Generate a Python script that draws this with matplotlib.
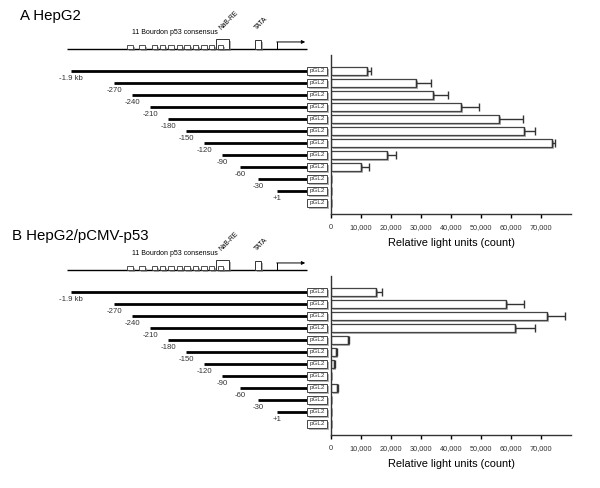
import numpy as np
import matplotlib
matplotlib.use("Agg")
import matplotlib.pyplot as plt
import matplotlib.patches as mpatches
import matplotlib.patheffects as pe

plt.rcParams['font.family'] = ['Liberation Sans', 'DejaVu Sans']

# constructs (5' end, bp relative to TSS); -1.9 kb is drawn on a broken scale
construct_labels = ['-1.9 kb', '-270', '-240', '-210', '-180', '-150', '-120', '-90', '-60', '-30', '+1']
construct_starts = [-343, -270, -240, -210, -180, -150, -120, -90, -60, -30, 1]
construct_end = 51

# promoter elements (bp)
bourdon_sites = [-244, -224, -203, -190, -176, -162, -149, -135, -121, -108, -93]
nabre_site = (-101, -79)
tata_site = (-36, -26)

# luciferase activity (RLU), 12 rows: 11 constructs + empty pGL2
hepg2_mean = [11900, 28200, 34100, 43400, 55900, 64300, 73800, 18800, 9900, 0, 0, 0]
hepg2_err = [1300, 5100, 4800, 5900, 8000, 3800, 1000, 2900, 2800, 0, 0, 0]
p53_mean = [15000, 58200, 72100, 61200, 5600, 1700, 1100, 0, 1900, 0, 0, 0]
p53_err = [1900, 6200, 5900, 6800, 400, 300, 200, 0, 300, 0, 0, 0]

ticks = [0, 10000, 20000, 30000, 40000, 50000, 60000, 70000]
tick_labels = ['0', '10,000', '20,000', '30,000', '40,000', '50,000', '60,000', '70,000']

shadow = [pe.SimplePatchShadow(offset=(1.4, -1.4), shadow_rgbFace='#777777', alpha=0.55), pe.Normal()]

W, H = 600, 488
fig = plt.figure(figsize=(6, 4.88), dpi=100)


def panel(y0, title, mean, err):
    # y0 = pixel row of first construct
    rows = np.arange(12)
    # left diagram axes
    axd = fig.add_axes([0, (H - (y0 + 143)) / H, 331 / W, 209 / H])
    axd.set_xlim(-460.67, 91)
    axd.set_ylim(11.92, -5.5)
    axd.axis('off')

    base = -1.8
    axd.plot([-349, construct_end], [base, base], color='k', lw=1.0, solid_capstyle='butt')
    for s in bourdon_sites:
        axd.add_patch(mpatches.Rectangle((s - 4.5, base), 9, -0.36, facecolor='white',
                                         edgecolor='#333333', lw=0.6, path_effects=shadow, zorder=3))
    axd.add_patch(mpatches.Rectangle((nabre_site[0], base), nabre_site[1] - nabre_site[0], -0.87,
                                     facecolor='white', edgecolor='#333333', lw=0.7,
                                     path_effects=shadow, zorder=2))
    axd.add_patch(mpatches.Rectangle((tata_site[0], base), tata_site[1] - tata_site[0], -0.8,
                                     facecolor='white', edgecolor='#333333', lw=0.7,
                                     path_effects=shadow, zorder=3))
    axd.plot([1, 1], [base, base - 0.62], color='k', lw=0.7)
    axd.annotate('', xy=(48, base - 0.62), xytext=(0.6, base - 0.62),
                 arrowprops=dict(arrowstyle='-|>', lw=0.7, color='k', mutation_scale=5,
                                 shrinkA=0, shrinkB=0))
    axd.text(-169, -3.2, '11 Bourdon p53 consensus', fontsize=5.0, ha='center', va='center')
    axd.text(-91, -3.4, 'NaB-RE', fontsize=4.8, rotation=45, rotation_mode='anchor',
             ha='left', va='baseline')
    axd.text(-33, -3.4, 'TATA', fontsize=4.8, rotation=45, rotation_mode='anchor',
             ha='left', va='baseline')

    for i, (lab, st) in enumerate(zip(construct_labels, construct_starts)):
        axd.plot([st, construct_end], [i, i], color='k', lw=2.0, solid_capstyle='butt')
        axd.text(st, i + 0.62, lab, fontsize=5.6, color='#333333', ha='center', va='center')
    for r in rows:
        axd.add_patch(mpatches.Rectangle((construct_end, r - 0.33), 33, 0.66, facecolor='white',
                                         edgecolor='#444444', lw=0.7, path_effects=shadow, zorder=3))
        axd.text(construct_end + 16.5, r, 'pGL2', fontsize=4.5, ha='center', va='center',
                 color='#333333', zorder=4)

    # bar axes
    ax = fig.add_axes([331 / W, (H - (y0 + 143)) / H, 240 / W, 159 / H])
    ax.barh(rows, mean, height=0.68, color='white', edgecolor='#444444', lw=0.9,
            path_effects=shadow, zorder=2)
    ax.errorbar(mean, rows, xerr=[np.zeros(12), err], fmt='none', ecolor='#333333',
                elinewidth=1.0, capsize=2.8, capthick=1.0, zorder=3)
    ax.set_xlim(0, 80000)
    ax.set_ylim(11.92, -1.33)
    ax.set_yticks([])
    ax.set_xticks(ticks)
    ax.set_xticklabels(tick_labels, fontsize=5.3, color='#333333')
    ax.tick_params(axis='x', direction='out', length=3, width=1.0, pad=4)
    for s in ['top', 'right']:
        ax.spines[s].set_visible(False)
    ax.spines['left'].set_linewidth(1.0)
    ax.spines['bottom'].set_linewidth(1.0)
    ax.spines['left'].set_color('#333333')
    ax.spines['bottom'].set_color('#333333')
    ax.set_xlabel('Relative light units (count)', fontsize=7.9, labelpad=5)
    ax.patch.set_alpha(0)

    fig.text(title[1] / W, 1 - title[2] / H, title[0], fontsize=10.8, va='baseline', ha='left')


panel(71, ('A HepG2', 20, 20), hepg2_mean, hepg2_err)
panel(292, ('B HepG2/pCMV-p53', 12, 240), p53_mean, p53_err)

fig.savefig('out.png', dpi=100)
